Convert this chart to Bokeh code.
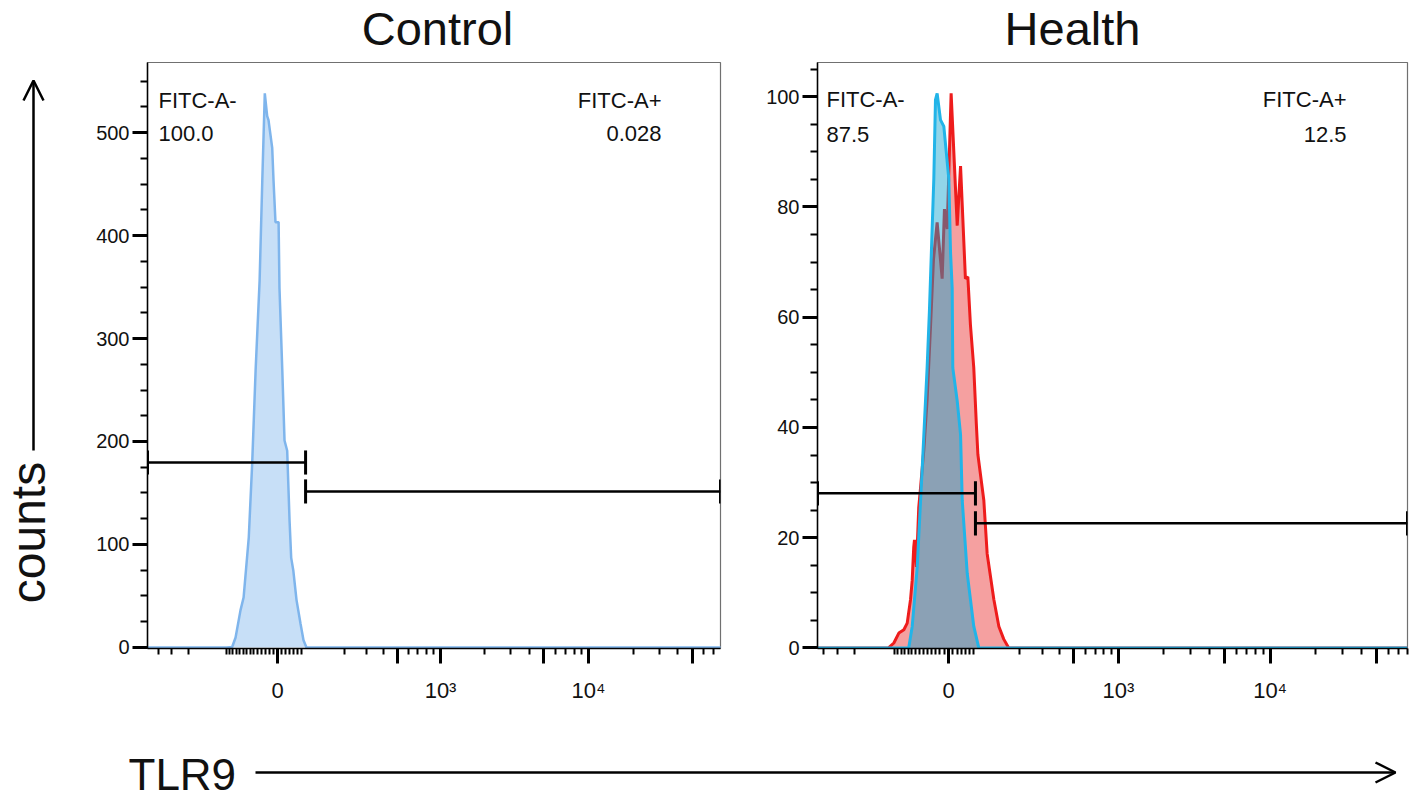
import numpy as np
from bokeh.plotting import figure
from bokeh.layouts import row, column
from bokeh.models import Range1d, FixedTicker, Label, Arrow, OpenHead
from bokeh.core.properties import value
from bokeh.embed import file_html
from bokeh.resources import INLINE

FONT = "Liberation Sans"

# ---------------- data (x in display decades of the biexponential axis) ----------------
ctrl_x = [1.00, 1.557, 1.595, 1.618, 1.651, 1.672, 1.707, 1.730, 1.753, 1.780, 1.798, 1.815,
          1.831, 1.840, 1.865, 1.874, 1.887, 1.908, 1.914, 1.933, 1.948, 1.966, 1.982, 1.993,
          2.007, 2.029, 2.056, 2.076, 2.096, 4.95]
ctrl_y = [0, 0, 0.5, 9.7, 36, 48.5, 107, 179, 269, 356, 453, 538,
          516, 512, 485, 453, 413, 413, 349, 269, 201, 191, 123, 87,
          75, 46, 23, 7, 0, 0]

red_x = [0.95, 1.487, 1.522, 1.555, 1.588, 1.610, 1.632, 1.643, 1.653, 1.658,
         1.671, 1.686, 1.697, 1.719, 1.741, 1.763, 1.783, 1.807, 1.840, 1.855,
         1.873, 1.899, 1.939, 1.961, 1.993, 2.009, 2.026, 2.048, 2.065, 2.075,
         2.114, 2.136, 2.180, 2.213, 2.245, 2.278, 4.95]
red_y = [0, 0, 0.9, 2.7, 3.3, 4.5, 8.8, 12.3, 18.3, 19.6,
         14.7, 25.5, 28.8, 35.8, 45, 58, 70.5, 77.2, 67, 79.6,
         76, 100.6, 76.6, 87.4, 67, 67.3, 58.6, 50.8, 40.5, 35.1,
         26.8, 17.1, 8.8, 3.9, 1.6, 0, 0]

blue_x = [0.95, 1.620, 1.643, 1.676, 1.709, 1.741, 1.756, 1.785, 1.796, 1.807, 1.829, 1.851,
          1.884, 1.895, 1.906, 1.910, 1.939, 1.961, 1.972, 2.005, 2.048, 2.081, 4.95]
blue_y = [0, 0, 3.9, 14.7, 32.7, 50.8, 61, 85, 99.4, 100.6, 95.8, 94.6,
          85, 71.8, 65.2, 50.8, 44.8, 38.7, 26.8, 13.5, 3.9, 0, 0]

# gates: (x_start, x_end, y)
ctrl_gates = [(1.024, 2.090, 179.6), (2.090, 4.888, 151.5)]
health_gates = [(1.020, 2.059, 28.05), (2.059, 4.901, 22.6)]

ctrl_pct = ["100.0", "0.028"]
health_pct = ["87.5", "12.5"]
gate_names = ["FITC-A-", "FITC-A+"]

ctrl_yticks = [0, 100, 200, 300, 400, 500]
health_yticks = [0, 20, 40, 60, 80, 100]

major_vals = [0, 500, 1000, 5000, 10000, 50000]
major_text = {0: "0", 1000: "10³", 10000: "10⁴"}
minor_vals = ([-500, -400, -300] + [v for v in range(-140, 70, 10) if v != 0] +
              [200, 300, 400, 600, 700, 800, 900] +
              [2000, 3000, 4000, 6000, 7000, 8000, 9000] +
              [20000, 30000, 40000, 60000, 70000, 80000, 90000])


def biex(v, a, c):
    return a + np.arcsinh(np.asarray(v, float) / (2 * c)) / np.log(10)


def style(p, a, c, yt, ystep):
    maj = [round(float(biex(v, a, c)), 6) for v in major_vals]
    mnr = [round(float(biex(v, a, c)), 6) for v in minor_vals]
    xa = p.xaxis[0]
    ya = p.yaxis[0]
    xa.ticker = FixedTicker(ticks=maj, minor_ticks=mnr)
    xa.major_label_overrides = {m: major_text.get(v, "") for m, v in zip(maj, major_vals)}
    ya.ticker = FixedTicker(ticks=yt, minor_ticks=[ystep * k for k in range(0, int(yt[-1] / ystep) + 3)])
    for ax in (xa, ya):
        ax.axis_line_color = "black"
        ax.axis_line_width = 1.5
        ax.major_tick_line_color = "black"
        ax.major_tick_line_width = 3
        ax.major_tick_out = 15
        ax.major_tick_in = 0
        ax.minor_tick_line_color = "black"
        ax.minor_tick_line_width = 2
        ax.minor_tick_in = 0
        ax.major_label_text_font = FONT
        ax.major_label_text_color = "#111111"
    xa.minor_tick_out = 6
    ya.minor_tick_out = 7
    xa.major_label_standoff = 14
    ya.major_label_standoff = 3
    xa.major_label_text_font_size = "22px"
    ya.major_label_text_font_size = "20px"
    p.xgrid.grid_line_color = None
    p.ygrid.grid_line_color = None
    p.outline_line_color = "#707070"
    p.outline_line_width = 1.2
    p.background_fill_color = "white"
    p.border_fill_color = "white"


def add_gates(p, gates, names, pct, bar_half, text_left, text_right, y1, y2):
    for (x0, x1, gy) in gates:
        p.segment(x0=[x0], y0=[gy], x1=[x1], y1=[gy], line_color="black", line_width=2.5)
        p.segment(x0=[x0, x1], y0=[gy - bar_half] * 2, x1=[x0, x1], y1=[gy + bar_half] * 2,
                  line_color="black", line_width=3)
    for i, (xx, al) in enumerate([(text_left, "left"), (text_right, "right")]):
        p.add_layout(Label(x=xx, y=y1, text=names[i], text_font=FONT, text_font_size="22px",
                           text_align=al, text_baseline="middle", text_color="#111111"))
        p.add_layout(Label(x=xx, y=y2, text=pct[i], text_font=FONT, text_font_size="22px",
                           text_align=al, text_baseline="middle", text_color="#111111"))


common = dict(output_backend="svg", toolbar_location=None, title=None)

# ---------------- Control panel ----------------
p1 = figure(width=692, height=682, x_range=Range1d(1.024, 4.888), y_range=Range1d(-1, 568),
            min_border_left=79, min_border_right=40, min_border_top=4, min_border_bottom=92, **common)
style(p1, 1.901, 80.1, ctrl_yticks, 25)
p1.patch(ctrl_x, ctrl_y, fill_color="#C7DFF7", line_color=None)
p1.line(ctrl_x, ctrl_y, line_color="#7FB5EC", line_width=2.5)
add_gates(p1, ctrl_gates, gate_names, ctrl_pct, 11.7, 1.098, 4.490, 531, 499)

# ---------------- Health panel ----------------
p2 = figure(width=650, height=682, x_range=Range1d(1.020, 4.901), y_range=Range1d(-0.1, 106.2),
            min_border_left=57, min_border_right=3, min_border_top=4, min_border_bottom=88, **common)
style(p2, 1.882, 76.7, health_yticks, 5)
p2.patch(red_x, red_y, fill_color="#F5A0A0", line_color=None)
p2.line(red_x, red_y, line_color="#EE1C1C", line_width=3)
p2.patch(blue_x, blue_y, fill_color="#0CA1CE", fill_alpha=0.45, line_color=None)
p2.line(blue_x, blue_y, line_color="#22B4E8", line_width=3)
add_gates(p2, health_gates, gate_names, health_pct, 2.2, 1.079, 4.50, 99.4, 93.1)

# ---------------- decorations (coordinates = page pixels) ----------------
common_deco = dict(x_axis_location=None, y_axis_location=None, outline_line_color=None, **common)

# left strip: its frame is aligned with the panel frames (page y 62..648)
p0 = figure(width=68, height=682, x_range=Range1d(0, 68), y_range=Range1d(-648, -62),
            min_border_left=0, min_border_right=0, min_border_top=4, min_border_bottom=92, **common_deco)
p0.text(x=[28], y=[-532], text=["counts"], angle=np.pi / 2, text_font=value(FONT),
        text_font_size=value("48px"), text_align="center", text_baseline="middle", text_color="#111111")
p0.add_layout(Arrow(end=OpenHead(size=20, line_width=2.5, line_color="black"),
                    x_start=33, y_start=-450, x_end=33, y_end=-80, line_width=2.5, line_color="black"))

ptop = figure(width=1410, height=58, x_range=Range1d(0, 1410), y_range=Range1d(-58, 0),
              min_border=0, **common_deco)
ptop.add_layout(Label(x=437, y=-28, text="Control", text_font=FONT, text_font_size="47px",
                      text_align="center", text_baseline="middle", text_color="#111111"))
ptop.add_layout(Label(x=1072, y=-28, text="Health", text_font=FONT, text_font_size="47px",
                      text_align="center", text_baseline="middle", text_color="#111111"))

p3 = figure(width=1410, height=62, x_range=Range1d(0, 1410), y_range=Range1d(-802, -740),
            min_border=0, **common_deco)
p3.add_layout(Label(x=128, y=-774, text="TLR9", text_font=FONT, text_font_size="44px",
                    text_align="left", text_baseline="middle", text_color="#111111"))
p3.add_layout(Arrow(end=OpenHead(size=20, line_width=2.5, line_color="black"),
                    x_start=255, y_start=-772, x_end=1395, y_end=-772, line_width=2.5, line_color="black"))

for f in (p0, ptop, p3):
    f.xgrid.grid_line_color = None
    f.ygrid.grid_line_color = None

layout = column(ptop, row(p0, p1, p2), p3)
open("out.html", "w").write(file_html(layout, INLINE))
